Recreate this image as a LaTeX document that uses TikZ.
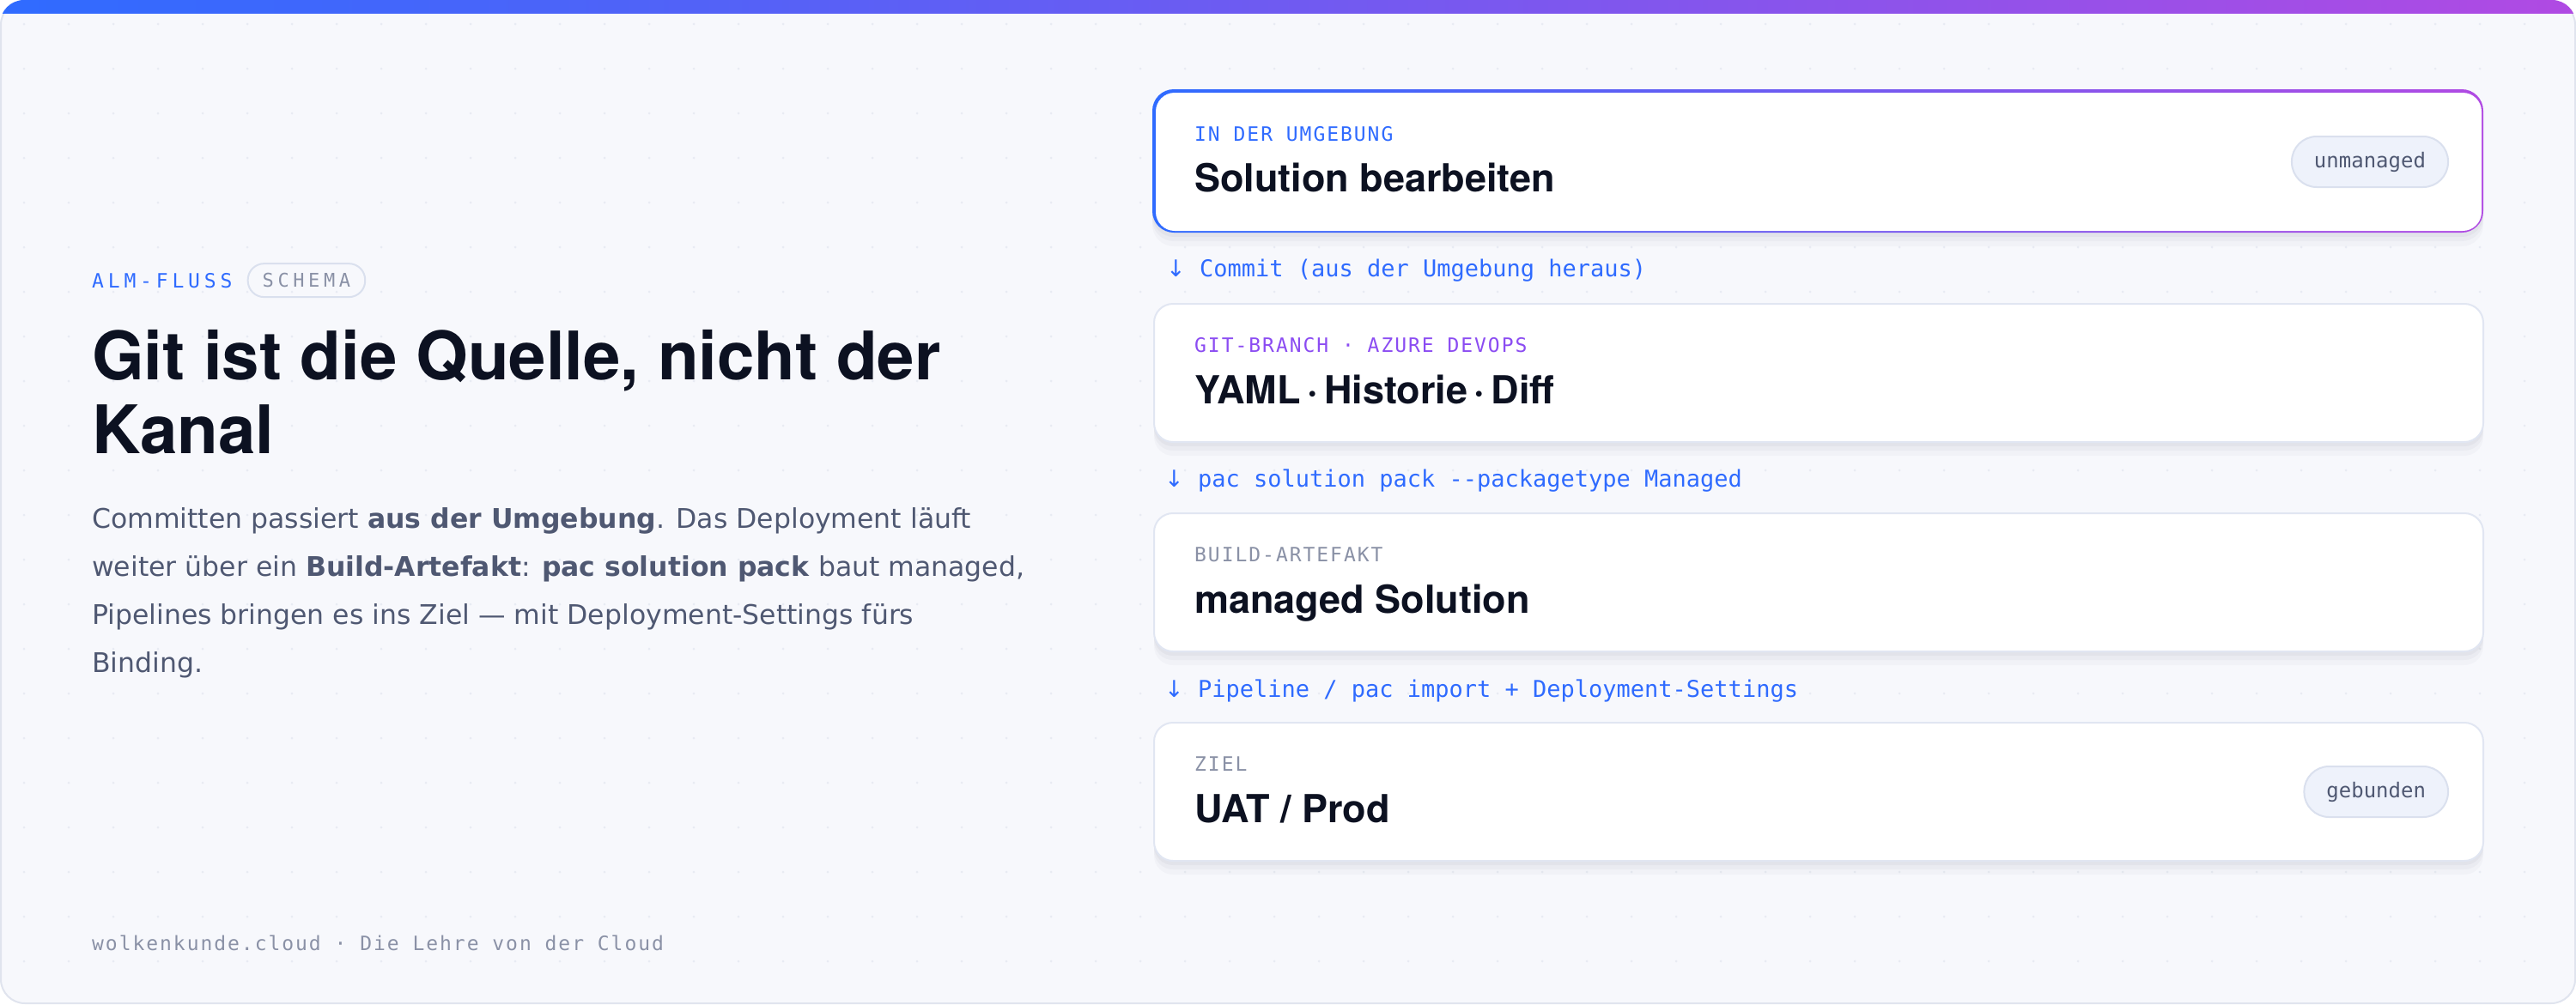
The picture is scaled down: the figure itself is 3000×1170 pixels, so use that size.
\documentclass[tikz,border=0pt]{standalone}
\usepackage{fontspec}
\setmainfont{DejaVu Sans}
\newfontfamily\headfont{TeX Gyre Heros}
\newfontfamily\codefont{DejaVu Sans Mono}
\newfontfamily\arrowfont{DejaVu Sans}
\newfontfamily\tagfont[LetterSpace=8.5]{DejaVu Sans Mono}
\newfontfamily\kickerfont[LetterSpace=21]{DejaVu Sans Mono}
\newcommand{\downmark}{{\arrowfont ↓}}
\usetikzlibrary{positioning}

\definecolor{pagebg}{HTML}{F7F8FC}
\definecolor{pageline}{HTML}{E0E4EE}
\definecolor{griddot}{HTML}{E8EBF3}
\definecolor{flowblue}{HTML}{2F6BFF}
\definecolor{flowviolet}{HTML}{7A4DFF}
\definecolor{flowpurple}{HTML}{B04AE3}
\definecolor{branchpurple}{HTML}{8B4CF2}
\definecolor{inkdark}{HTML}{0C1121}
\definecolor{inkbody}{HTML}{4F5872}
\definecolor{inkmuted}{HTML}{8A91A6}
\definecolor{cardline}{HTML}{E1E6F2}
\definecolor{pillfill}{HTML}{EEF2FB}
\definecolor{pillline}{HTML}{DAE0EE}
\definecolor{shadowink}{HTML}{1A2340}

\begin{document}
\begin{tikzpicture}[x=1pt, y=-1pt,
	cardshadow/.style = {
		preaction={fill=shadowink, fill opacity=0.025, transform canvas={yshift=-16pt}},
		preaction={fill=shadowink, fill opacity=0.03, transform canvas={yshift=-10pt}},
		preaction={fill=shadowink, fill opacity=0.035, transform canvas={yshift=-5pt}}},
	stagebox/.style = {
		shape=rectangle, rounded corners=22pt, anchor=north west,
		draw=cardline, line width=2pt, fill=white,
		minimum width=1548pt, minimum height=161pt},
	stagetag/.style = {anchor=base west, inner sep=0pt,
		font=\tagfont\fontsize{23}{23}\selectfont},
	stagetitle/.style = {anchor=base west, inner sep=0pt, text=inkdark,
		font=\headfont\bfseries\fontsize{45}{45}\selectfont},
	stepnote/.style = {anchor=base west, inner sep=0pt, text=flowblue,
		font=\codefont\fontsize{27}{27}\selectfont},
	statepill/.style = {
		shape=rectangle, rounded corners=29pt, anchor=east,
		draw=pillline, line width=2pt, fill=pillfill, text=inkbody,
		minimum height=59pt, inner xsep=26pt,
		font=\codefont\fontsize{24}{24}\selectfont},
	kicker/.style = {anchor=base west, inner sep=0pt, text=flowblue,
		font=\kickerfont\fontsize{23}{23}\selectfont},
	schemapill/.style = {
		shape=rectangle, rounded corners=19pt, anchor=west,
		draw=pillline, line width=2pt, text=inkmuted,
		minimum height=39pt, inner xsep=17pt,
		font=\kickerfont\fontsize{22}{22}\selectfont},
	headline/.style = {anchor=base west, inner sep=0pt, text=inkdark, align=left,
		font=\headfont\bfseries\fontsize{78}{86}\selectfont},
	lede/.style = {anchor=base west, inner sep=0pt, text=inkbody, align=left,
		font=\fontsize{31.5}{56}\selectfont},
	footer/.style = {anchor=base west, inner sep=0pt, text=inkmuted,
		font=\tagfont\fontsize{23}{23}\selectfont}]

	\useasboundingbox (0,0) rectangle (3000,1170);
	\fill[white] (0,0) rectangle (3000,1170);
	\fill[pagebg, rounded corners=28pt] (1,1) rectangle (2999,1169);
	\foreach \gx in {28,80,...,2970} {
		\foreach \gy in {28,80,...,1150} {
			\fill[griddot] (\gx,\gy) circle (1.5pt);
		}
	}
	\draw[pageline, line width=2pt, rounded corners=28pt] (1,1) rectangle (2999,1169);
	\begin{scope}
		\clip[rounded corners=28pt] (0,0) rectangle (3000,1170);
		\shade[left color=flowblue, middle color=flowviolet, right color=flowpurple]
			(0,0) rectangle (3000,15);
	\end{scope}

	\node[kicker] (kick) at (107,335) {ALM-FLUSS};
	\node[schemapill, right=17pt of kick] (schema) {SCHEMA};
	\node[headline] (head) at (107,528) {Git ist die Quelle, nicht der\\Kanal};
	\node[lede] (body) at (107,783) {Committen passiert \textbf{aus der Umgebung}. Das Deployment läuft\\
		weiter über ein \textbf{Build-Artefakt}: \textbf{pac solution pack} baut managed,\\
		Pipelines bringen es ins Ziel — mit Deployment-Settings fürs\\
		Binding.};
	\node[footer] (foot) at (107,1107) {wolkenkunde.cloud · Die Lehre von der Cloud};

	\shade[cardshadow, rounded corners=25pt, left color=flowblue, right color=flowpurple]
		(1342,104) rectangle (2892,271);
	\node[stagebox, draw=none, minimum width=1544pt, minimum height=161pt] (b1) at (1345,107) {};
	\node[stagebox, cardshadow] (b2) at (1343,353) {};
	\node[stagebox, cardshadow] (b3) at (1343,597) {};
	\node[stagebox, cardshadow] (b4) at (1343,841) {};

	\node[stagetag, text=flowblue] (t1) at ([shift={(46pt,-57pt)}]b1.north west) {IN DER UMGEBUNG};
	\node[stagetitle] (s1) at ([shift={(46pt,-116pt)}]b1.north west) {Solution bearbeiten};
	\node[statepill] (p1) at ([xshift=-39pt]b1.east) {unmanaged};

	\node[stagetag, text=branchpurple] (t2) at ([shift={(48pt,-57pt)}]b2.north west) {GIT-BRANCH · AZURE DEVOPS};
	\node[stagetitle] (s2) at ([shift={(48pt,-117pt)}]b2.north west) {YAML\,·\,Historie\,·\,Diff};

	\node[stagetag, text=inkmuted] (t3) at ([shift={(48pt,-57pt)}]b3.north west) {BUILD-ARTEFAKT};
	\node[stagetitle] (s3) at ([shift={(48pt,-117pt)}]b3.north west) {managed Solution};

	\node[stagetag, text=inkmuted] (t4) at ([shift={(48pt,-57pt)}]b4.north west) {ZIEL};
	\node[stagetitle] (s4) at ([shift={(48pt,-117pt)}]b4.north west) {UAT / Prod};
	\node[statepill] (p4) at ([xshift=-41pt]b4.east) {gebunden};

	\node[stepnote] (n1) at ([shift={(13pt,-52pt)}]b1.south west) {\downmark{} Commit (aus der Umgebung heraus)};
	\node[stepnote] (n2) at ([shift={(13pt,-51pt)}]b2.south west) {\downmark{} pac solution pack --packagetype Managed};
	\node[stepnote] (n3) at ([shift={(13pt,-52pt)}]b3.south west) {\downmark{} Pipeline / pac import + Deployment-Settings};
\end{tikzpicture}
\end{document}
